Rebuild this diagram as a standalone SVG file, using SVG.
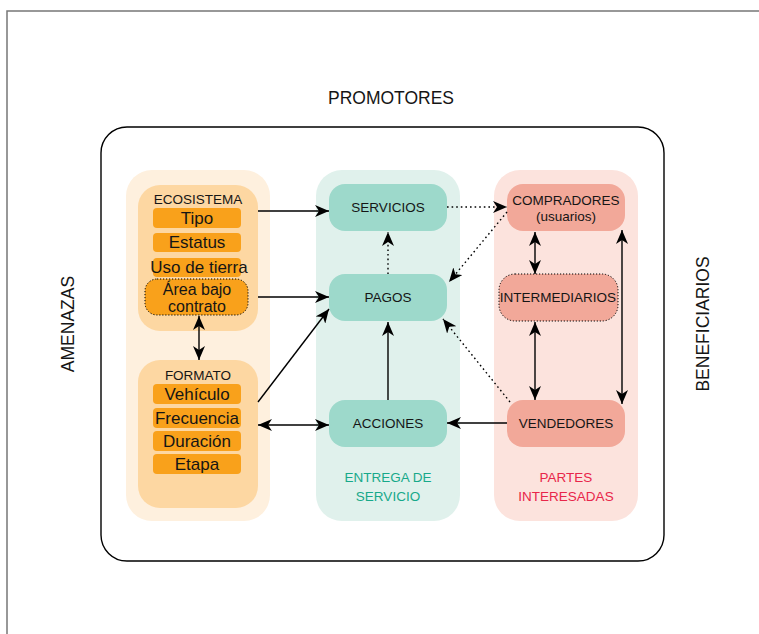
<svg xmlns="http://www.w3.org/2000/svg" width="759" height="634" viewBox="0 0 759 634">
<defs>
<style>
text{font-family:"Liberation Sans",Arial,sans-serif;fill:#151515;text-anchor:middle}
.big{font-size:17.5px}
.hdr{font-size:13.5px}
.itm{font-size:17px}
.itm2{font-size:16px}
.nd{font-size:13.5px}
.item{fill:#F9A11B}
.ln{stroke:#000;stroke-width:1.4;fill:none}
.dot{stroke-dasharray:1.6 3}
</style>
<marker id="ah" viewBox="0 0 14 12" refX="14" refY="6" markerWidth="14" markerHeight="12" markerUnits="userSpaceOnUse" orient="auto-start-reverse">
<path d="M0,0 L14,6 L0,12 L4,6 z" fill="#000"/>
</marker>
</defs>
<rect width="759" height="634" fill="#fff"/>
<path d="M7,634 V11 H759" fill="none" stroke="#777" stroke-width="1.5"/>
<text class="big" x="391" y="104">PROMOTORES</text>
<text class="big" transform="translate(74,324) rotate(-90)">AMENAZAS</text>
<text class="big" transform="translate(709,324) rotate(-90)">BENEFICIARIOS</text>
<rect x="101" y="127" width="563" height="434" rx="26" fill="#fff" stroke="#000" stroke-width="1.4"/>

<g id="contrato">
<rect x="126" y="170" width="144" height="351" rx="26" fill="#FEF0DE"/>
<text x="198" y="497" font-size="13.5" style="fill:#C98A2E">CONTRATO</text>
</g>
<g id="ecosistema">
<rect x="138" y="185" width="120" height="146" rx="22" fill="#FDD7A2"/>
<text class="hdr" x="198" y="204">ECOSISTEMA</text>
<rect class="item" x="153" y="208" width="88" height="20" rx="4"/>
<text class="itm" x="197" y="224">Tipo</text>
<rect class="item" x="153" y="233" width="88" height="19" rx="4"/>
<text class="itm" x="197" y="248">Estatus</text>
<rect class="item" x="153" y="258" width="88" height="19" rx="4"/>
<text class="itm" x="199" y="273">Uso de tierra</text>
<rect class="item" x="145" y="279" width="103" height="36" rx="12" stroke="#000" stroke-width="1" stroke-dasharray="1.2 1.8"/>
<text class="itm2" x="197" y="295">Área bajo</text>
<text class="itm2" x="197" y="312">contrato</text>
</g>
<g id="formato">
<rect x="138" y="360" width="120" height="148" rx="22" fill="#FDD7A2"/>
<text class="hdr" x="198" y="380">FORMATO</text>
<rect class="item" x="153" y="384" width="88" height="20" rx="4"/>
<text class="itm" x="197" y="400">Vehículo</text>
<rect class="item" x="153" y="408" width="88" height="20" rx="4"/>
<text class="itm" x="197" y="424">Frecuencia</text>
<rect class="item" x="153" y="431" width="88" height="20" rx="4"/>
<text class="itm" x="197" y="447">Duración</text>
<rect class="item" x="153" y="454" width="88" height="20" rx="4"/>
<text class="itm" x="197" y="470">Etapa</text>
</g>

<g id="entrega">
<rect x="316" y="170" width="144" height="351" rx="26" fill="#E0F1EC"/>
<text x="388" y="482" font-size="13.5" style="fill:#17A98A">ENTREGA DE</text>
<text x="388" y="501" font-size="13.5" style="fill:#17A98A">SERVICIO</text>
</g>
<g id="servicios">
<rect x="329" y="184" width="118" height="47" rx="16" fill="#9DD9CB"/>
<text class="nd" x="388" y="212">SERVICIOS</text>
</g>
<g id="pagos">
<rect x="329" y="274" width="118" height="47" rx="16" fill="#9DD9CB"/>
<text class="nd" x="388" y="302">PAGOS</text>
</g>
<g id="acciones">
<rect x="329" y="400" width="118" height="47" rx="16" fill="#9DD9CB"/>
<text class="nd" x="388" y="428">ACCIONES</text>
</g>

<g id="partes">
<rect x="494" y="170" width="144" height="351" rx="26" fill="#FCE3DD"/>
<text x="566" y="482" font-size="13.5" style="fill:#E8264A">PARTES</text>
<text x="566" y="501" font-size="13.5" style="fill:#E8264A">INTERESADAS</text>
</g>
<g id="compradores">
<rect x="507" y="184" width="118" height="47" rx="16" fill="#F2A899"/>
<text class="nd" x="566" y="205">COMPRADORES</text>
<text class="nd" x="566" y="221">(usuarios)</text>
</g>
<g id="intermediarios">
<rect x="499" y="274" width="119" height="47" rx="16" fill="#F2A899" stroke="#000" stroke-width="1" stroke-dasharray="1.2 1.8"/>
<text class="nd" x="558" y="302">INTERMEDIARIOS</text>
</g>
<g id="vendedores">
<rect x="507" y="400" width="118" height="47" rx="16" fill="#F2A899"/>
<text class="nd" x="566" y="428">VENDEDORES</text>
</g>

<g id="connectors">
<path class="ln" d="M258,211 H329" marker-end="url(#ah)"/>
<path class="ln" d="M258,297 H329" marker-end="url(#ah)"/>
<path class="ln" d="M199,316 V360" marker-start="url(#ah)" marker-end="url(#ah)"/>
<path class="ln" d="M258,402 L329,309" marker-end="url(#ah)"/>
<path class="ln" d="M258,425 H329" marker-start="url(#ah)" marker-end="url(#ah)"/>
<path class="ln" d="M388,400 V322" marker-end="url(#ah)"/>
<path class="ln dot" d="M388,274 V232" marker-end="url(#ah)"/>
<path class="ln dot" d="M447,207 H507" marker-end="url(#ah)"/>
<path class="ln dot" d="M507,212 L449,282" marker-end="url(#ah)"/>
<path class="ln dot" d="M510,402 L443,319" marker-end="url(#ah)"/>
<path class="ln" d="M507,423 H447" marker-end="url(#ah)"/>
<path class="ln" d="M535,232 V274" marker-start="url(#ah)" marker-end="url(#ah)"/>
<path class="ln" d="M535,322 V400" marker-start="url(#ah)" marker-end="url(#ah)"/>
<path class="ln" d="M622,230 V404" marker-start="url(#ah)" marker-end="url(#ah)"/>
</g>
</svg>
